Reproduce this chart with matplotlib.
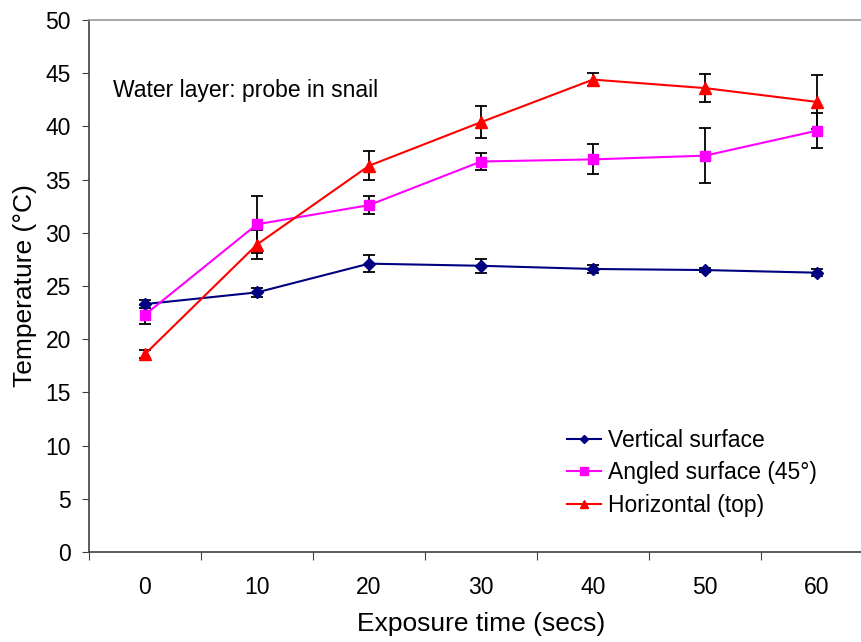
import matplotlib
matplotlib.use("Agg")
import matplotlib.pyplot as plt
import numpy as np

plt.rcParams['font.family'] = ['Liberation Sans', 'DejaVu Sans']

times = [0, 10, 20, 30, 40, 50, 60]
vertical = [23.3, 24.4, 27.1, 26.9, 26.6, 26.5, 26.25]
vertical_err = [0.35, 0.45, 0.8, 0.65, 0.4, 0.2, 0.35]
angled = [22.3, 30.8, 32.6, 36.7, 36.9, 37.25, 39.6]
angled_err = [0.9, 2.7, 0.85, 0.8, 1.4, 2.6, 1.65]
horizontal = [18.6, 28.9, 36.3, 40.4, 44.4, 43.6, 42.3]
horizontal_err = [0.4, 1.4, 1.35, 1.5, 0.6, 1.3, 2.5]

W, H = 862, 642
fig = plt.figure(figsize=(W / 100, H / 100), dpi=100)
ax = fig.add_axes([89 / W, (H - 552) / H, (873 - 89) / W, (552 - 20) / H])

x = np.arange(len(times))
series = [
    (vertical, vertical_err, '#000080', 'D', 6, 'Vertical surface'),
    (angled, angled_err, '#FF00FF', 's', 7.5, 'Angled surface (45°)'),
    (horizontal, horizontal_err, '#FF0000', '^', 8, 'Horizontal (top)'),
]
handles = []
for vals, err, col, mk, ms, lab in series:
    ax.errorbar(x, vals, yerr=err, fmt='none', ecolor='black', elinewidth=1.3,
                capsize=4.5, capthick=1.3, zorder=2)
    h, = ax.plot(x, vals, color=col, marker=mk, markersize=ms, linewidth=1.5,
                 markeredgecolor=col, label=lab, zorder=3)
    handles.append(h)

ax.set_xlim(-0.5, len(times) - 0.5)
ax.set_ylim(0, 50)
ax.set_yticks(np.arange(0, 51, 5))
ax.set_xticks(np.arange(-0.5, len(times), 1.0))
ax.set_xticklabels([])
ax.set_xticks(x, minor=True)
ax.set_xticklabels([str(t) for t in times], minor=True)
ax.tick_params(axis='x', which='minor', length=0, pad=17, labelsize=16.5)
ax.tick_params(axis='x', which='major', length=6, direction='out', color='#404040')
ax.tick_params(axis='y', length=5, direction='out', pad=8, labelsize=16.5, color='#404040')

for s in ['left', 'bottom']:
    ax.spines[s].set_color('#404040')
    ax.spines[s].set_linewidth(1.2)
for s in ['top', 'right']:
    ax.spines[s].set_color('#999999')
    ax.spines[s].set_linewidth(1.2)

ax.set_ylabel('Temperature (°C)', fontsize=19, labelpad=6)
ax.set_xlabel('Exposure time (secs)', fontsize=19, labelpad=10)

ax.text(113 / W, (H - 91) / H, 'Water layer: probe in snail', transform=fig.transFigure,
        fontsize=16.5, va='center', ha='left')

leg = fig.legend(handles=handles, loc='upper left',
                 bbox_to_anchor=(546 / W, (H - 408) / H), frameon=False,
                 fontsize=16.5, handlelength=1.5, handletextpad=0.3,
                 labelspacing=0.42, markerscale=0.75)

fig.savefig('out.png', dpi=100)
